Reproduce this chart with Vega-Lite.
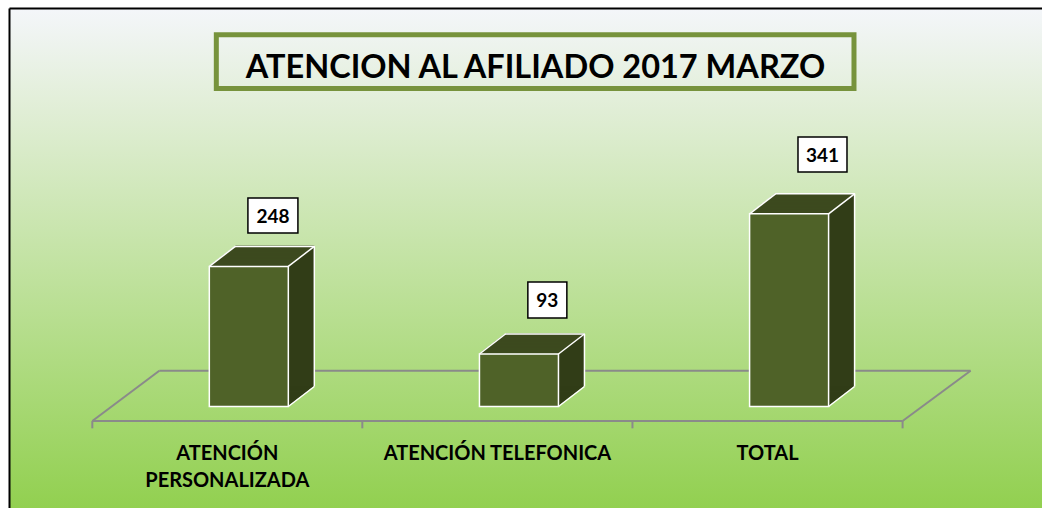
{
  "$schema": "https://vega.github.io/schema/vega-lite/v6.json",
  "width": 1033,
  "height": 500,
  "padding": {"left": 9, "top": 8, "right": 0, "bottom": 0},
  "autosize": {"type": "none"},
  "background": "white",
  "view": {
    "stroke": null,
    "fill": {"gradient": "linear", "x1": 0, "y1": 0, "x2": 0, "y2": 1,
      "stops": [
        {"offset": 0, "color": "#F4F6FA"},
        {"offset": 0.18, "color": "#E3EFDA"},
        {"offset": 1, "color": "#92D050"}
      ]}
  },
  "data": {"values": [
    {"cat": "ATENCIÓN PERSONALIZADA", "label": "ATENCIÓN\nPERSONALIZADA", "value": 248},
    {"cat": "ATENCIÓN TELEFONICA", "label": "ATENCIÓN TELEFONICA", "value": 93},
    {"cat": "TOTAL", "label": "TOTAL", "value": 341}
  ]},
  "encoding": {
    "x": {"field": "cat", "type": "nominal", "sort": null,
      "scale": {"type": "band", "domain": ["ATENCIÓN PERSONALIZADA", "ATENCIÓN TELEFONICA", "TOTAL"], "paddingInner": 0, "paddingOuter": 0.412, "align": 0.374},
      "axis": {"orient": "top", "title": null, "labels": false, "ticks": false, "grid": false, "domain": true, "domainColor": "black", "domainWidth": 2}},
    "y": {"field": "value", "type": "quantitative",
      "scale": {"domain": [-179.6, 705.3], "nice": false, "zero": false},
      "axis": {"title": null, "labels": false, "ticks": false, "grid": false, "domain": true, "domainColor": "black", "domainWidth": 2}}
  },
  "layer": [
    {"transform": [{"filter": "datum.value == 341"}], "mark": {"type": "rule", "stroke": "#8A8A8A", "strokeWidth": 2, "xOffset": -68, "x2Offset": 203},
     "encoding": {"x": {"datum": "ATENCIÓN PERSONALIZADA"}, "x2": {"datum": "TOTAL"}, "y": {"datum": 63.4}, "y2": {"datum": 63.4}}},
    {"transform": [{"filter": "datum.value == 341"}], "mark": {"type": "rule", "stroke": "#8A8A8A", "strokeWidth": 2, "xOffset": -135, "x2Offset": 135},
     "encoding": {"x": {"datum": "ATENCIÓN PERSONALIZADA"}, "x2": {"datum": "TOTAL"}, "y": {"datum": -25.7}, "y2": {"datum": -25.7}}},
    {"transform": [{"filter": "datum.value == 341"}], "mark": {"type": "rule", "stroke": "#8A8A8A", "strokeWidth": 2, "xOffset": -135, "x2Offset": -68},
     "encoding": {"x": {"datum": "ATENCIÓN PERSONALIZADA"}, "x2": {"datum": "ATENCIÓN PERSONALIZADA"}, "y": {"datum": -25.7}, "y2": {"datum": 63.4}}},
    {"transform": [{"filter": "datum.value == 341"}], "mark": {"type": "rule", "stroke": "#8A8A8A", "strokeWidth": 2, "xOffset": 135, "x2Offset": 203},
     "encoding": {"x": {"datum": "TOTAL"}, "x2": {"datum": "TOTAL"}, "y": {"datum": -25.7}, "y2": {"datum": 63.4}}},
    {"transform": [{"filter": "datum.value == 341"}], "mark": {"type": "rule", "stroke": "#8A8A8A", "strokeWidth": 2, "xOffset": -135},
     "encoding": {"x": {"datum": "ATENCIÓN PERSONALIZADA"}, "y": {"datum": -25.7}, "y2": {"datum": -38.6}}},
    {"transform": [{"filter": "datum.value == 341"}], "mark": {"type": "rule", "stroke": "#8A8A8A", "strokeWidth": 2, "xOffset": 135},
     "encoding": {"x": {"datum": "ATENCIÓN PERSONALIZADA"}, "y": {"datum": -25.7}, "y2": {"datum": -38.6}}},
    {"transform": [{"filter": "datum.value == 341"}], "mark": {"type": "rule", "stroke": "#8A8A8A", "strokeWidth": 2, "xOffset": 135},
     "encoding": {"x": {"datum": "ATENCIÓN TELEFONICA"}, "y": {"datum": -25.7}, "y2": {"datum": -38.6}}},
    {"transform": [{"filter": "datum.value == 341"}], "mark": {"type": "rule", "stroke": "#8A8A8A", "strokeWidth": 2, "xOffset": 135},
     "encoding": {"x": {"datum": "TOTAL"}, "y": {"datum": -25.7}, "y2": {"datum": -38.6}}},

    {"mark": {"type": "bar", "width": 79, "fill": "#313D17", "xOffset": 22.5, "yOffset": -0.77, "y2Offset": -0.77}, "encoding": {"y2": {"datum": 0}}},
    {"mark": {"type": "bar", "width": 79, "fill": "#313D17", "xOffset": 23.5, "yOffset": -1.54, "y2Offset": -1.54}, "encoding": {"y2": {"datum": 0}}},
    {"mark": {"type": "bar", "width": 79, "fill": "#313D17", "xOffset": 24.5, "yOffset": -2.31, "y2Offset": -2.31}, "encoding": {"y2": {"datum": 0}}},
    {"mark": {"type": "bar", "width": 79, "fill": "#313D17", "xOffset": 25.5, "yOffset": -3.08, "y2Offset": -3.08}, "encoding": {"y2": {"datum": 0}}},
    {"mark": {"type": "bar", "width": 79, "fill": "#313D17", "xOffset": 26.5, "yOffset": -3.85, "y2Offset": -3.85}, "encoding": {"y2": {"datum": 0}}},
    {"mark": {"type": "bar", "width": 79, "fill": "#313D17", "xOffset": 27.5, "yOffset": -4.62, "y2Offset": -4.62}, "encoding": {"y2": {"datum": 0}}},
    {"mark": {"type": "bar", "width": 79, "fill": "#313D17", "xOffset": 28.5, "yOffset": -5.39, "y2Offset": -5.39}, "encoding": {"y2": {"datum": 0}}},
    {"mark": {"type": "bar", "width": 79, "fill": "#313D17", "xOffset": 29.5, "yOffset": -6.16, "y2Offset": -6.16}, "encoding": {"y2": {"datum": 0}}},
    {"mark": {"type": "bar", "width": 79, "fill": "#313D17", "xOffset": 30.5, "yOffset": -6.93, "y2Offset": -6.93}, "encoding": {"y2": {"datum": 0}}},
    {"mark": {"type": "bar", "width": 79, "fill": "#313D17", "xOffset": 31.5, "yOffset": -7.7, "y2Offset": -7.7}, "encoding": {"y2": {"datum": 0}}},
    {"mark": {"type": "bar", "width": 79, "fill": "#313D17", "xOffset": 32.5, "yOffset": -8.47, "y2Offset": -8.47}, "encoding": {"y2": {"datum": 0}}},
    {"mark": {"type": "bar", "width": 79, "fill": "#313D17", "xOffset": 33.5, "yOffset": -9.24, "y2Offset": -9.24}, "encoding": {"y2": {"datum": 0}}},
    {"mark": {"type": "bar", "width": 79, "fill": "#313D17", "xOffset": 34.5, "yOffset": -10.01, "y2Offset": -10.01}, "encoding": {"y2": {"datum": 0}}},
    {"mark": {"type": "bar", "width": 79, "fill": "#313D17", "xOffset": 35.5, "yOffset": -10.78, "y2Offset": -10.78}, "encoding": {"y2": {"datum": 0}}},
    {"mark": {"type": "bar", "width": 79, "fill": "#313D17", "xOffset": 36.5, "yOffset": -11.55, "y2Offset": -11.55}, "encoding": {"y2": {"datum": 0}}},
    {"mark": {"type": "bar", "width": 79, "fill": "#313D17", "xOffset": 37.5, "yOffset": -12.32, "y2Offset": -12.32}, "encoding": {"y2": {"datum": 0}}},
    {"mark": {"type": "bar", "width": 79, "fill": "#313D17", "xOffset": 38.5, "yOffset": -13.09, "y2Offset": -13.09}, "encoding": {"y2": {"datum": 0}}},
    {"mark": {"type": "bar", "width": 79, "fill": "#313D17", "xOffset": 39.5, "yOffset": -13.86, "y2Offset": -13.86}, "encoding": {"y2": {"datum": 0}}},
    {"mark": {"type": "bar", "width": 79, "fill": "#313D17", "xOffset": 40.5, "yOffset": -14.63, "y2Offset": -14.63}, "encoding": {"y2": {"datum": 0}}},
    {"mark": {"type": "bar", "width": 79, "fill": "#313D17", "xOffset": 41.5, "yOffset": -15.4, "y2Offset": -15.4}, "encoding": {"y2": {"datum": 0}}},
    {"mark": {"type": "bar", "width": 79, "fill": "#313D17", "xOffset": 42.5, "yOffset": -16.17, "y2Offset": -16.17}, "encoding": {"y2": {"datum": 0}}},
    {"mark": {"type": "bar", "width": 79, "fill": "#313D17", "xOffset": 43.5, "yOffset": -16.94, "y2Offset": -16.94}, "encoding": {"y2": {"datum": 0}}},
    {"mark": {"type": "bar", "width": 79, "fill": "#313D17", "xOffset": 44.5, "yOffset": -17.71, "y2Offset": -17.71}, "encoding": {"y2": {"datum": 0}}},
    {"mark": {"type": "bar", "width": 79, "fill": "#313D17", "xOffset": 45.5, "yOffset": -18.48, "y2Offset": -18.48}, "encoding": {"y2": {"datum": 0}}},
    {"mark": {"type": "bar", "width": 79, "fill": "#313D17", "xOffset": 46.5, "yOffset": -19.25, "y2Offset": -19.25}, "encoding": {"y2": {"datum": 0}}},
    {"mark": {"type": "bar", "width": 79, "fill": "#313D17", "xOffset": 47.5, "yOffset": -20.02, "y2Offset": -20.02}, "encoding": {"y2": {"datum": 0}}},

    {"mark": {"type": "tick", "size": 79, "thickness": 1.6, "color": "#3C4A1F", "opacity": 1, "xOffset": 21.5, "yOffset": 0}},
    {"mark": {"type": "tick", "size": 79, "thickness": 1.6, "color": "#3C4A1F", "opacity": 1, "xOffset": 22.5, "yOffset": -0.77}},
    {"mark": {"type": "tick", "size": 79, "thickness": 1.6, "color": "#3C4A1F", "opacity": 1, "xOffset": 23.5, "yOffset": -1.54}},
    {"mark": {"type": "tick", "size": 79, "thickness": 1.6, "color": "#3C4A1F", "opacity": 1, "xOffset": 24.5, "yOffset": -2.31}},
    {"mark": {"type": "tick", "size": 79, "thickness": 1.6, "color": "#3C4A1F", "opacity": 1, "xOffset": 25.5, "yOffset": -3.08}},
    {"mark": {"type": "tick", "size": 79, "thickness": 1.6, "color": "#3C4A1F", "opacity": 1, "xOffset": 26.5, "yOffset": -3.85}},
    {"mark": {"type": "tick", "size": 79, "thickness": 1.6, "color": "#3C4A1F", "opacity": 1, "xOffset": 27.5, "yOffset": -4.62}},
    {"mark": {"type": "tick", "size": 79, "thickness": 1.6, "color": "#3C4A1F", "opacity": 1, "xOffset": 28.5, "yOffset": -5.39}},
    {"mark": {"type": "tick", "size": 79, "thickness": 1.6, "color": "#3C4A1F", "opacity": 1, "xOffset": 29.5, "yOffset": -6.16}},
    {"mark": {"type": "tick", "size": 79, "thickness": 1.6, "color": "#3C4A1F", "opacity": 1, "xOffset": 30.5, "yOffset": -6.93}},
    {"mark": {"type": "tick", "size": 79, "thickness": 1.6, "color": "#3C4A1F", "opacity": 1, "xOffset": 31.5, "yOffset": -7.7}},
    {"mark": {"type": "tick", "size": 79, "thickness": 1.6, "color": "#3C4A1F", "opacity": 1, "xOffset": 32.5, "yOffset": -8.47}},
    {"mark": {"type": "tick", "size": 79, "thickness": 1.6, "color": "#3C4A1F", "opacity": 1, "xOffset": 33.5, "yOffset": -9.24}},
    {"mark": {"type": "tick", "size": 79, "thickness": 1.6, "color": "#3C4A1F", "opacity": 1, "xOffset": 34.5, "yOffset": -10.01}},
    {"mark": {"type": "tick", "size": 79, "thickness": 1.6, "color": "#3C4A1F", "opacity": 1, "xOffset": 35.5, "yOffset": -10.78}},
    {"mark": {"type": "tick", "size": 79, "thickness": 1.6, "color": "#3C4A1F", "opacity": 1, "xOffset": 36.5, "yOffset": -11.55}},
    {"mark": {"type": "tick", "size": 79, "thickness": 1.6, "color": "#3C4A1F", "opacity": 1, "xOffset": 37.5, "yOffset": -12.32}},
    {"mark": {"type": "tick", "size": 79, "thickness": 1.6, "color": "#3C4A1F", "opacity": 1, "xOffset": 38.5, "yOffset": -13.09}},
    {"mark": {"type": "tick", "size": 79, "thickness": 1.6, "color": "#3C4A1F", "opacity": 1, "xOffset": 39.5, "yOffset": -13.86}},
    {"mark": {"type": "tick", "size": 79, "thickness": 1.6, "color": "#3C4A1F", "opacity": 1, "xOffset": 40.5, "yOffset": -14.63}},
    {"mark": {"type": "tick", "size": 79, "thickness": 1.6, "color": "#3C4A1F", "opacity": 1, "xOffset": 41.5, "yOffset": -15.4}},
    {"mark": {"type": "tick", "size": 79, "thickness": 1.6, "color": "#3C4A1F", "opacity": 1, "xOffset": 42.5, "yOffset": -16.17}},
    {"mark": {"type": "tick", "size": 79, "thickness": 1.6, "color": "#3C4A1F", "opacity": 1, "xOffset": 43.5, "yOffset": -16.94}},
    {"mark": {"type": "tick", "size": 79, "thickness": 1.6, "color": "#3C4A1F", "opacity": 1, "xOffset": 44.5, "yOffset": -17.71}},
    {"mark": {"type": "tick", "size": 79, "thickness": 1.6, "color": "#3C4A1F", "opacity": 1, "xOffset": 45.5, "yOffset": -18.48}},
    {"mark": {"type": "tick", "size": 79, "thickness": 1.6, "color": "#3C4A1F", "opacity": 1, "xOffset": 46.5, "yOffset": -19.25}},
    {"mark": {"type": "tick", "size": 79, "thickness": 1.6, "color": "#3C4A1F", "opacity": 1, "xOffset": 47.5, "yOffset": -20.02}},

    {"mark": {"type": "bar", "width": 79, "fill": "#4F6228", "stroke": "white", "strokeWidth": 1.5, "xOffset": 21.5}, "encoding": {"y2": {"datum": 0}}},
    {"mark": {"type": "tick", "size": 80, "thickness": 1.5, "color": "white", "opacity": 1, "xOffset": 47.5, "yOffset": -20}},
    {"mark": {"type": "rule", "stroke": "white", "strokeWidth": 1.5, "xOffset": 87, "yOffset": -20, "y2Offset": -20}, "encoding": {"y2": {"datum": 0}}},
    {"mark": {"type": "rule", "stroke": "white", "strokeWidth": 1.5, "xOffset": -18, "x2Offset": 8, "y2Offset": -20}, "encoding": {"x2": {"field": "cat"}, "y2": {"field": "value"}}},
    {"mark": {"type": "rule", "stroke": "white", "strokeWidth": 1.5, "xOffset": 61, "x2Offset": 87, "y2Offset": -20}, "encoding": {"x2": {"field": "cat"}, "y2": {"field": "value"}}},
    {"mark": {"type": "rule", "stroke": "white", "strokeWidth": 1.5, "xOffset": 61, "x2Offset": 87, "y2Offset": -20}, "encoding": {"y": {"datum": 0}, "x2": {"field": "cat"}, "y2": {"datum": 0}}},

    {"transform": [{"filter": "datum.value == 248"}], "mark": {"type": "bar", "width": 50, "fill": "white", "stroke": "black", "strokeWidth": 1.5, "xOffset": 45.6, "yOffset": -68.4, "y2Offset": -33.4}, "encoding": {"y2": {"field": "value"}}},
    {"transform": [{"filter": "datum.value == 93"}], "mark": {"type": "bar", "width": 39, "fill": "white", "stroke": "black", "strokeWidth": 1.5, "xOffset": 49.9, "yOffset": -72, "y2Offset": -36}, "encoding": {"y2": {"field": "value"}}},
    {"transform": [{"filter": "datum.value == 341"}], "mark": {"type": "bar", "width": 49, "fill": "white", "stroke": "black", "strokeWidth": 1.5, "xOffset": 54.9, "yOffset": -76.8, "y2Offset": -41.8}, "encoding": {"y2": {"field": "value"}}},
    {"transform": [{"filter": "datum.value == 248"}], "mark": {"type": "text", "font": "Lato", "fontSize": 19, "fontWeight": "bold", "color": "black", "align": "center", "baseline": "alphabetic", "xOffset": 45.6, "yOffset": -43.7}, "encoding": {"text": {"field": "value"}}},
    {"transform": [{"filter": "datum.value == 93"}], "mark": {"type": "text", "font": "Lato", "fontSize": 19, "fontWeight": "bold", "color": "black", "align": "center", "baseline": "alphabetic", "xOffset": 49.9, "yOffset": -47.3}, "encoding": {"text": {"field": "value"}}},
    {"transform": [{"filter": "datum.value == 341"}], "mark": {"type": "text", "font": "Lato", "fontSize": 19, "fontWeight": "bold", "color": "black", "align": "center", "baseline": "alphabetic", "xOffset": 54.9, "yOffset": -51.5}, "encoding": {"text": {"field": "value"}}},

    {"mark": {"type": "text", "font": "Lato", "fontSize": 20, "fontWeight": "bold", "color": "black", "align": "center", "baseline": "alphabetic", "lineBreak": "\n", "lineHeight": 27},
     "encoding": {"y": {"datum": -94.7}, "text": {"field": "label"}}},

    {"transform": [{"filter": "datum.value == 341"}], "mark": {"type": "rect", "fill": "white", "fillOpacity": 0, "stroke": "#77933C", "strokeWidth": 5, "xOffset": -11, "x2Offset": 86.4},
     "encoding": {"x": {"datum": "ATENCIÓN PERSONALIZADA"}, "x2": {"datum": "TOTAL"}, "y": {"datum": 657.9}, "y2": {"datum": 562.8}}},
    {"transform": [{"filter": "datum.value == 341"}], "mark": {"type": "text", "font": "Lato", "fontSize": 32.5, "fontWeight": "bold", "color": "black", "align": "center", "baseline": "alphabetic", "xOffset": 38},
     "encoding": {"x": {"datum": "ATENCIÓN TELEFONICA"}, "y": {"datum": 580.9}, "text": {"value": "ATENCION AL AFILIADO 2017 MARZO"}}}
  ]
}
